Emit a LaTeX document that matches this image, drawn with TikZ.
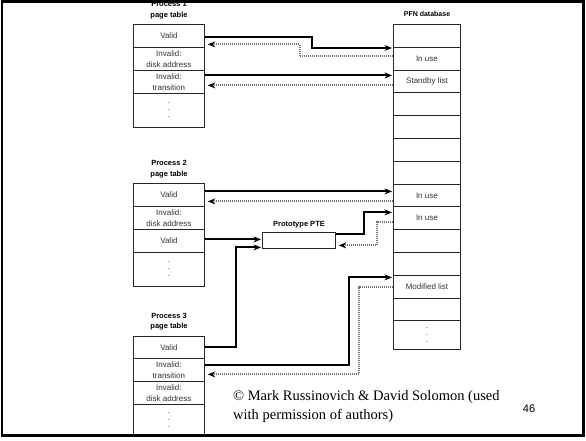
\documentclass[tikz,border=0pt]{standalone}
\usepackage{fontspec}
\setmainfont{Liberation Sans}
\newfontfamily\seriffont{Liberation Serif}
\usetikzlibrary{arrows.meta,calc}
\begin{document}
\begin{tikzpicture}[x=1pt,y=-1pt,
  cell/.style={draw=black!85,line width=0.8pt,minimum width=71pt,inner sep=0pt,anchor=north west,align=center,text=black!80,font=\fontsize{8}{11.5}\selectfont},
  pcell/.style={cell,minimum width=67pt},
  dotcell/.style={font=\fontsize{8}{7}\selectfont},
  ttl/.style={font=\bfseries\fontsize{7.5}{10.5}\selectfont,align=center,inner sep=0pt},
  solidarr/.style={line width=2pt,-{Stealth[length=7.5pt,width=6pt]},shorten >=1pt},
  dotarr/.style={line width=2pt,draw=black!55,dash pattern=on 1pt off 1pt,-{Stealth[length=7.5pt,width=6pt,color=black]},shorten >=3pt},
]
\useasboundingbox (0,0) rectangle (586,440);
\fill[white] (0,0) rectangle (586,440);

% Process 1
\node[ttl] (t1) at (169,10) {Process 1\\page table};
\node[cell,minimum height=23pt] (p1a) at (133,24) {Valid};
\node[cell,minimum height=23pt] (p1b) at (133,47) {Invalid:\\disk address};
\node[cell,minimum height=23pt] (p1c) at (133,70) {Invalid:\\transition};
\node[cell,dotcell,minimum height=34pt] (p1d) at (133,93) {.\\.\\.};

% Process 2
\node[ttl] (t2) at (169,169) {Process 2\\page table};
\node[cell,minimum height=23pt] (p2a) at (133,183) {Valid};
\node[cell,minimum height=23pt] (p2b) at (133,206) {Invalid:\\disk address};
\node[cell,minimum height=23pt] (p2c) at (133,229) {Valid};
\node[cell,dotcell,minimum height=34pt] (p2d) at (133,252) {.\\.\\.};

% Process 3
\node[ttl] (t3) at (169,321.5) {Process 3\\page table};
\node[cell,minimum height=22pt] (p3a) at (133,336) {Valid};
\node[cell,minimum height=23pt] (p3b) at (133,358) {Invalid:\\transition};
\node[cell,minimum height=23pt] (p3c) at (133,381) {Invalid:\\disk address};
\node[cell,dotcell,minimum height=32pt] (p3d) at (133,404) {.\\.\\.};

% Prototype PTE
\node[ttl] (tp) at (299,225) {Prototype PTE};
\node[cell,minimum width=73pt,minimum height=16pt] (proto) at (262,232) {};

% PFN database
\node[ttl,font=\bfseries\fontsize{7}{9}\selectfont] (tpfn) at (427,14) {PFN database};
\foreach \i/\t in {0/{},1/{In use},2/{Standby list},3/{},4/{},5/{},6/{},7/{In use},8/{In use},9/{},10/{},11/{Modified list},12/{}}
  \node[pcell,minimum height=22.8pt] (pfn\i) at (393,24+22.8*\i) {\t};
\node[pcell,dotcell,minimum height=28.6pt] (pfn13) at (393,320.4) {.\\.\\.};

% Process 1 connectors
\draw[solidarr] ($(p1a.east)+(0,1.5)$) -| ($(pfn1.north west)+(-81,1.2)$) -- ($(pfn1.north west)+(0,1.2)$);
\draw[dotarr] ($(pfn1.west)+(0,-2.2)$) -| ($(p1a.east)+(95,8.5)$) -- ($(p1a.east)+(0,8.5)$);
\coordinate (s3) at ($(p1c.east)+(0,-6.5)$);
\draw[solidarr] (s3) -- (s3 -| pfn2.west);
\coordinate (s4) at ($(pfn2.west)+(0,4)$);
\draw[dotarr] (s4) -- (s4 -| p1c.east);

% Process 2 connectors
\coordinate (s5) at ($(p2a.east)+(0,-3.5)$);
\draw[solidarr] (s5) -- (s5 -| pfn7.west);
\coordinate (s6) at ($(pfn7.west)+(0,6)$);
\draw[dotarr] (s6) -- (s6 -| p2a.east);
\coordinate (s7) at ($(p2c.east)+(0,-1.5)$);
\draw[solidarr] (s7) -- (s7 -| proto.west);
\draw[solidarr] ($(proto.east)+(0,-6)$) -| ($(pfn8.west)+(-29,-5.8)$) -- ($(pfn8.west)+(0,-5.8)$);
\draw[dotarr] ($(pfn8.west)+(0,4.2)$) -| ($(proto.east)+(41,5)$) -- ($(proto.east)+(0,5)$);

% Process 3 connectors
\draw[solidarr] (p3a.east) -| ($(proto.west)+(-26,7)$) -- ($(proto.west)+(0,7)$);
\draw[solidarr] ($(p3b.east)+(0,-4.5)$) -| ($(pfn11.west)+(-44,-9.2)$) -- ($(pfn11.west)+(0,-9.2)$);
\draw[dotarr] (pfn11.west) -| ($(p3b.east)+(154,4.5)$) -- ($(p3b.east)+(0,4.5)$);

% Footer
\node[font=\seriffont\fontsize{14.5}{19}\selectfont,align=left,anchor=west,inner sep=0pt] (copy) at (233,406.5) {© Mark Russinovich \& David Solomon (used\\with permission of authors)};
\node[font=\fontsize{11}{13}\selectfont,inner sep=0pt] (pg) at (529,409) {46};

% Frame
\draw[line width=2.5pt] (2,1.5) rectangle (583.5,435.5);
\end{tikzpicture}
\end{document}
